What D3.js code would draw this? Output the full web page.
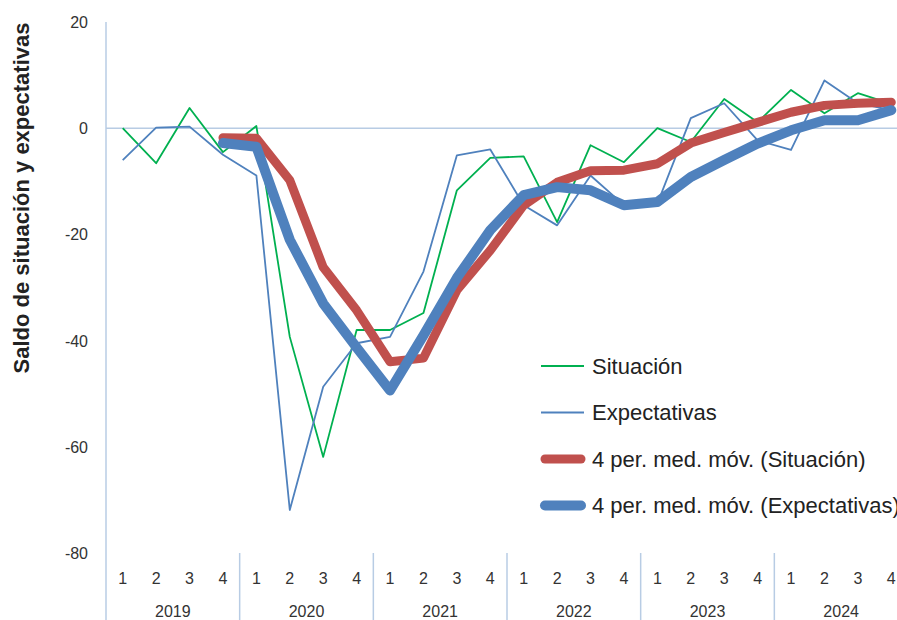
<!DOCTYPE html>
<html>
<head>
<meta charset="utf-8">
<script src="https://cdn.jsdelivr.net/npm/d3@7"></script>
<style>
  body { margin: 0; background: #fff; }
  svg { display: block; font-family: "Liberation Sans", Arial, sans-serif; }
</style>
</head>
<body>
<div id="chart"></div>
<script>
// Data
const years = ["2019", "2020", "2021", "2022", "2023", "2024"];
const quarters = ["1", "2", "3", "4"];
const yTicks = [20, 0, -20, -40, -60, -80];

const situacion = [0, -6.6, 3.8, -4.5, 0.4, -39.3, -61.9, -38, -38, -34.8, -11.7, -5.6,
  -5.3, -17.7, -3.2, -6.4, 0, -2.6, 5.5, 1.1, 7.2, 2.8, 6.6, 4.6];
const expectativas = [-6, 0.1, 0.3, -5, -8.9, -71.9, -48.7, -40.5, -39.3, -27, -5.1, -4,
  -14.5, -18.3, -8.9, -14.5, -14.2, 1.9, 4.7, -2.3, -4.1, 9, 4.7, 3.4];
// moving averages start at 2019 Q4
const mmSituacion = [null, null, null, -1.8, -1.9, -9.8, -26.2, -34.3, -44, -43.3, -30.5, -23,
  -14.5, -10.2, -8, -7.9, -6.7, -2.8, -0.8, 1.1, 3, 4.3, 4.7, 4.9];
const mmExpectativas = [null, null, null, -2.8, -3.5, -21, -33, -41.3, -49.4, -39, -28.2, -19.2,
  -12.6, -11.1, -11.7, -14.5, -13.9, -9.2, -6, -2.9, -0.4, 1.5, 1.5, 3.4];

const keys = [];
years.forEach(y => quarters.forEach(q => keys.push(y + "-" + q)));

const W = 897, H = 620;
const svg = d3.select("#chart").append("svg")
  .attr("width", W)
  .attr("height", H);

const x = d3.scaleBand().domain(keys).range([106, 908]);
const y = d3.scaleLinear().domain([-80, 20]).range([553, 22]);
const axisColor = "#b8cce4";

// y axis line
svg.append("line")
  .attr("x1", 106).attr("x2", 106)
  .attr("y1", y(20)).attr("y2", H)
  .attr("stroke", axisColor).attr("stroke-width", 1.5);

// zero line
svg.append("line")
  .attr("x1", 106).attr("x2", 908)
  .attr("y1", y(0)).attr("y2", y(0))
  .attr("stroke", axisColor).attr("stroke-width", 1.5);

// y tick labels
svg.selectAll(".ytick")
  .data(yTicks)
  .join("text")
  .attr("class", "ytick")
  .attr("x", 88)
  .attr("y", d => y(d) + 6)
  .attr("text-anchor", "end")
  .style("font-size", "16px")
  .style("fill", "#333")
  .text(d => d);

// y axis title
svg.append("text")
  .attr("transform", `translate(29, 198) rotate(-90)`)
  .attr("text-anchor", "middle")
  .style("font-size", "22px")
  .style("font-weight", "bold")
  .style("fill", "#222")
  .text("Saldo de situación y expectativas");

// year separators
svg.selectAll(".ysep")
  .data(years.slice(1))
  .join("line")
  .attr("class", "ysep")
  .attr("x1", d => x(d + "-1")).attr("x2", d => x(d + "-1"))
  .attr("y1", y(-80)).attr("y2", H)
  .attr("stroke", axisColor).attr("stroke-width", 1.5);

// quarter labels
svg.selectAll(".qlab")
  .data(keys)
  .join("text")
  .attr("class", "qlab")
  .attr("x", d => x(d) + x.bandwidth() / 2)
  .attr("y", 584)
  .attr("text-anchor", "middle")
  .style("font-size", "16px")
  .style("fill", "#333")
  .text(d => d.split("-")[1]);

// year labels
svg.selectAll(".ylab")
  .data(years)
  .join("text")
  .attr("class", "ylab")
  .attr("x", d => x(d + "-1") + x.bandwidth() * 2)
  .attr("y", 617)
  .attr("text-anchor", "middle")
  .style("font-size", "16px")
  .style("fill", "#333")
  .text(d => d);

const line = d3.line()
  .defined(d => d.v !== null)
  .x(d => x(d.k) + x.bandwidth() / 2)
  .y(d => y(d.v));

const series = [
  { name: "Situación", values: situacion, color: "#00b050", width: 1.8 },
  { name: "Expectativas", values: expectativas, color: "#4f81bd", width: 1.8 },
  { name: "4 per. med. móv. (Situación)", values: mmSituacion, color: "#c0504d", width: 9 },
  { name: "4 per. med. móv. (Expectativas)", values: mmExpectativas, color: "#4f81bd", width: 10 }
];

svg.selectAll(".series")
  .data(series)
  .join("path")
  .attr("class", "series")
  .attr("d", s => line(s.values.map((v, i) => ({ k: keys[i], v: v }))))
  .attr("fill", "none")
  .attr("stroke", s => s.color)
  .attr("stroke-width", s => s.width)
  .attr("stroke-linejoin", "round")
  .attr("stroke-linecap", s => s.width > 3 ? "round" : "butt");

// legend
const legend = svg.append("g").attr("transform", "translate(541, 366)");
const rowGap = 46.5;

legend.selectAll(".leg-line")
  .data(series)
  .join("line")
  .attr("class", "leg-line")
  .attr("x1", s => s.width > 3 ? 4 : 0)
  .attr("x2", s => s.width > 3 ? 40 : 43)
  .attr("y1", (s, i) => i * rowGap)
  .attr("y2", (s, i) => i * rowGap)
  .attr("stroke", s => s.color)
  .attr("stroke-width", s => s.width)
  .attr("stroke-linecap", s => s.width > 3 ? "round" : "butt");

legend.selectAll(".leg-text")
  .data(series)
  .join("text")
  .attr("class", "leg-text")
  .attr("x", 51)
  .attr("y", (s, i) => i * rowGap + 7.5)
  .style("font-size", "22px")
  .style("fill", "#222")
  .text(s => s.name);
</script>
</body>
</html>
